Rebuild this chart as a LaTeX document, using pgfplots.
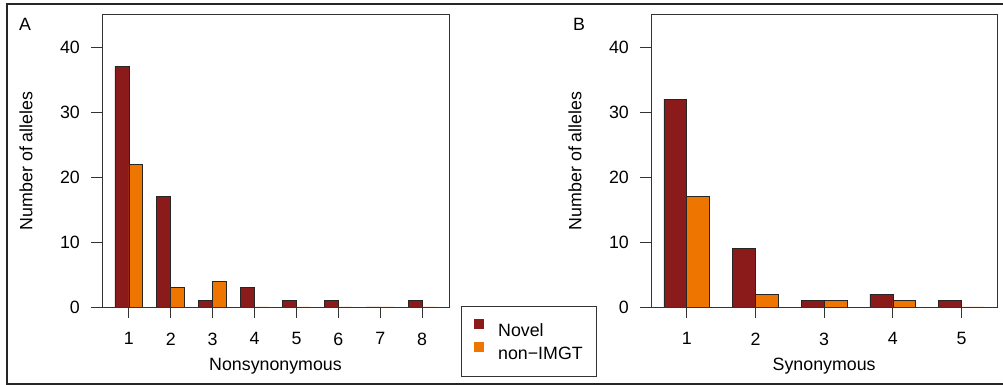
\documentclass[border=0pt]{standalone}
\usepackage{fontspec}
\setmainfont{Liberation Sans}
\usepackage{pgfplots}
\pgfplotsset{compat=1.18}
\definecolor{novel}{HTML}{8B1A1A}
\definecolor{nonimgt}{HTML}{EE7600}
\definecolor{axisgray}{HTML}{333333}
\pgfplotsset{
  rpanel/.style={
    scale only axis, width=347pt, height=292.3pt,
    ymin=0, ymax=45,
    axis line style={axisgray, line width=0.9pt},
    every tick/.style={axisgray, line width=0.9pt},
    tick align=outside, major tick length=11pt,
    xtick pos=lower, ytick pos=left,
    ytick={0,10,20,30,40},
    font=\fontsize{17.8}{21}\selectfont,
    /pgf/number format/assume math mode=true,
    ylabel={Number of alleles},
    every axis y label/.style={at={(axis description cs:0,0.5)}, xshift=-76pt, rotate=90, anchor=center},
    every axis x label/.style={at={(axis description cs:0.5,0)}, yshift=-59pt, anchor=center},
    yticklabel style={inner xsep=0pt, anchor=east, xshift=-11pt},
    xticklabel style={inner ysep=0pt, anchor=north, yshift=-14.5pt},
  },
  novelbar/.style={ybar, bar width=0.33333, bar shift=-0.16667, fill=novel, draw=black!85, line width=0.6pt},
  nonbar/.style={ybar, bar width=0.33333, bar shift=0.16667, fill=nonimgt, draw=black!85, line width=0.6pt},
}
\begin{document}
\begin{tikzpicture}[x=1pt,y=1pt]
\useasboundingbox (0,0) rectangle (1003,385);
\draw[line width=2pt, black!85] (1003,380.5) -- (7,380.5) -- (7,1) -- (1003,1);
\node[font=\fontsize{17.8}{21}\selectfont] at (25,361) {A};
\node[font=\fontsize{17.8}{21}\selectfont] at (579,361) {B};
\begin{axis}[rpanel, at={(102pt,78pt)}, anchor=south west,
  xmin=0.36, xmax=8.64, xtick={1,2,3,4,5,6,7,8},
  xlabel={Nonsynonymous},
  legend style={at={(1.0337,0.0034)}, anchor=north west, draw=axisgray, line width=0.9pt,
    font=\fontsize{17.8}{21}\selectfont, inner xsep=13.3pt, inner ysep=12.5pt, row sep=0pt,
    column sep=13.7pt,
    nodes={inner xsep=0pt, inner ysep=5pt, text height=12.6pt, text depth=0pt}},
  legend cell align=left,
  legend image code/.code={\path[#1, draw=none] (0pt,1.3pt) rectangle (10pt,11.3pt);},
]
\addplot[novelbar] coordinates {(1,37) (2,17) (3,1) (4,3) (5,1) (6,1) (7,0) (8,1)};
\addlegendentry{Novel}
\addplot[nonbar] coordinates {(1,22) (2,3) (3,4) (4,0) (5,0) (6,0) (7,0) (8,0)};
\addlegendentry{non\textminus IMGT}
\end{axis}
\begin{axis}[rpanel, at={(651pt,78pt)}, anchor=south west, width=346.3pt,
  xmin=0.48, xmax=5.52, xtick={1,2,3,4,5},
  xlabel={Synonymous},
]
\addplot[novelbar] coordinates {(1,32) (2,9) (3,1) (4,2) (5,1)};
\addplot[nonbar] coordinates {(1,17) (2,2) (3,1) (4,1) (5,0)};
\end{axis}
\end{tikzpicture}
\end{document}
